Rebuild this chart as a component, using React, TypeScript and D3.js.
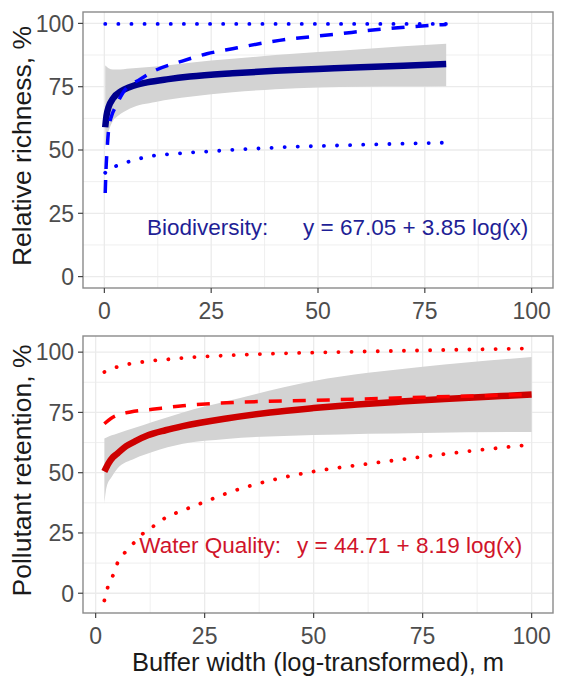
import * as d3 from "d3";

const xTicks = [0, 25, 50, 75, 100];
const yTicks = [0, 25, 50, 75, 100];
const minorTicks = [12.5, 37.5, 62.5, 87.5];

// Biodiversity panel
const bioFit: [number, number][] = [
  [0.2, 59], [0.5, 63.5], [1, 67], [2, 70.3], [4, 73.3], [6, 74.9], [10, 76.7],
  [15, 78], [20, 79], [30, 80.3], [40, 81.3], [50, 82], [60, 82.7], [70, 83.3], [80, 84],
];
const bioBandX = [0.2, 0.5, 1, 2, 3, 6, 12, 20, 30, 40, 50, 60, 70, 80];
const bioBandLow = [51, 54.5, 57.5, 61.5, 63.2, 66.4, 69, 71, 72.8, 74, 74.7, 75, 75.1, 75.2];
const bioBandHigh = [83.5, 83, 82.3, 81.8, 81.8, 82.2, 83, 84.5, 86, 87.5, 88.7, 89.8, 91, 92];
const bioDashed: [number, number][] = [
  [0.2, 33], [0.4, 43], [0.6, 49], [1, 58], [1.8, 64], [2.6, 67], [4.5, 73], [8.4, 78],
  [12, 81.5], [18, 85], [24, 88], [30, 90], [41, 93.3], [54, 95.7], [66, 97.9], [80, 99.6],
];
const bioDotHigh: [number, number][] = [[0.2, 99.8], [40, 99.8], [80, 99.8]];
const bioDotLow: [number, number][] = [
  [0.2, 41], [1, 42.5], [2.5, 43.5], [5, 45], [10, 47.3], [18, 48.7], [25, 49.5],
  [35, 50.5], [45, 51.3], [55, 51.8], [65, 52.3], [80, 52.9],
];

// Water quality panel
const wqFit: [number, number][] = [
  [2, 50.5], [3, 54], [4, 56.5], [5, 58], [7, 61], [9, 63], [12, 65.5], [16, 67.6],
  [20, 69.3], [30, 72.5], [40, 75], [50, 76.8], [60, 78.3], [70, 79.5], [80, 80.6], [90, 81.5], [100, 82.4],
];
const wqBandX = [2, 2.5, 3.7, 5, 9, 13, 20, 30, 50, 75, 100];
const wqBandLow = [37.2, 44, 48.3, 51.7, 55.9, 58.6, 62, 64, 65.6, 66.5, 66.9];
const wqBandHigh = [64.2, 64.6, 65.5, 66.3, 68.6, 71, 75, 79.6, 88, 93.9, 98];
const wqDashed: [number, number][] = [
  [2, 70.3], [3.5, 72.5], [5, 73.9], [8, 75.2], [13, 76.3], [20, 77.8], [30, 79],
  [50, 80], [75, 81.3], [100, 82.4],
];
const wqDotHigh: [number, number][] = [
  [2, 91.8], [5, 93.9], [11, 96], [17, 97.1], [23, 98], [30, 98.6], [45, 99.6],
  [60, 100.2], [80, 100.9], [98, 101.5],
];
const wqDotLow: [number, number][] = [
  [2, -3], [2.8, 2.6], [4, 7.5], [5, 12.5], [7, 17.5], [9, 21.3], [11, 25], [13.6, 28.2],
  [16, 31.3], [19, 33.7], [22, 35.8], [25, 37.9], [30, 41.4], [42, 47.6], [50, 50.5],
  [63, 53.8], [75, 56.6], [87, 59.2], [98.6, 61.4],
];

const font = "'Liberation Sans', Arial, sans-serif";
const left = 83;
const right = 553;

function Panel({ id, top, bottom, xDomain, yDomain, yTitle, fit, bandX, bandLow, bandHigh,
  dashed, dotHigh, dotLow, mainColor, lineColor, textColor, label, labelX, eq, eqX, showXTitle }: any) {
  const x = d3.scaleLinear().domain(xDomain).range([left, right]);
  const y = d3.scaleLinear().domain(yDomain).range([bottom, top]);

  const line = d3.line<[number, number]>()
    .x((d) => x(d[0]))
    .y((d) => y(d[1]))
    .curve(d3.curveMonotoneX);

  const band = d3.area<number>()
    .x((d) => x(d))
    .y0((d, i) => y(bandLow[i]))
    .y1((d, i) => y(bandHigh[i]))
    .curve(d3.curveMonotoneX);

  return (
    <g>
      <defs>
        <clipPath id={`clip-${id}`}>
          <rect x={left} y={top} width={right - left} height={bottom - top} />
        </clipPath>
      </defs>
      <rect x={left} y={top} width={right - left} height={bottom - top} fill="white" />
      {/* grid */}
      <g stroke="#ebebeb">
        {minorTicks.map((t) => (
          <g key={"m" + t}>
            <line x1={x(t)} x2={x(t)} y1={top} y2={bottom} strokeWidth={0.8} />
            <line x1={left} x2={right} y1={y(t)} y2={y(t)} strokeWidth={0.8} />
          </g>
        ))}
        {xTicks.map((t) => (
          <line key={"gx" + t} x1={x(t)} x2={x(t)} y1={top} y2={bottom} strokeWidth={1.3} />
        ))}
        {yTicks.map((t) => (
          <line key={"gy" + t} x1={left} x2={right} y1={y(t)} y2={y(t)} strokeWidth={1.3} />
        ))}
      </g>
      <g clipPath={`url(#clip-${id})`}>
        <path d={band(bandX) ?? ""} fill="#d3d3d3" />
        <path d={line(fit) ?? ""} fill="none" stroke={mainColor} strokeWidth={6.5} />
        <path d={line(dashed) ?? ""} fill="none" stroke={lineColor} strokeWidth={3.5}
          strokeDasharray="13 11" />
        <path d={line(dotHigh) ?? ""} fill="none" stroke={lineColor} strokeWidth={3.8}
          strokeDasharray="0.1 13" strokeLinecap="round" />
        <path d={line(dotLow) ?? ""} fill="none" stroke={lineColor} strokeWidth={3.8}
          strokeDasharray="0.1 13" strokeLinecap="round" />
      </g>
      <text x={x(labelX)} y={y(16.5)} fill={textColor} fontSize={22.5} fontFamily={font}>{label}</text>
      <text x={x(eqX)} y={y(16.5)} fill={textColor} fontSize={22.5} fontFamily={font}>{eq}</text>
      <rect x={left} y={top} width={right - left} height={bottom - top} fill="none"
        stroke="#8a8a8a" strokeWidth={1.4} />
      {/* y axis */}
      {yTicks.map((t) => (
        <g key={"yt" + t}>
          <line x1={left - 5} x2={left} y1={y(t)} y2={y(t)} stroke="#444" strokeWidth={1.2} />
          <text x={74} y={y(t)} dy="0.36em" textAnchor="end" fontSize={23} fill="#4d4d4d"
            fontFamily={font}>{t}</text>
        </g>
      ))}
      {/* x axis */}
      {xTicks.map((t) => (
        <g key={"xt" + t}>
          <line x1={x(t)} x2={x(t)} y1={bottom} y2={bottom + 5} stroke="#444" strokeWidth={1.2} />
          <text x={x(t)} y={bottom + 31} textAnchor="middle" fontSize={23} fill="#4d4d4d"
            fontFamily={font}>{t}</text>
        </g>
      ))}
      <text transform={`translate(31, ${(top + bottom) / 2 - 4}) rotate(-90)`} textAnchor="middle"
        fontSize={26.5} fill="#1a1a1a" fontFamily={font}>{yTitle}</text>
      {showXTitle && (
        <text x={(left + right) / 2} y={671} textAnchor="middle" fontSize={25.5} fill="#1a1a1a"
          fontFamily={font}>Buffer width (log-transformed), m</text>
      )}
    </g>
  );
}

export default function App() {
  return (
    <svg width={576} height={678} style={{ position: "absolute", left: 0, top: 0, background: "white" }}>
      <Panel id="bio" top={12} bottom={288} xDomain={[-5, 105]} yDomain={[-4.5, 104.5]}
        yTitle="Relative richness, %" fit={bioFit} bandX={bioBandX} bandLow={bioBandLow}
        bandHigh={bioBandHigh} dashed={bioDashed} dotHigh={bioDotHigh} dotLow={bioDotLow}
        mainColor="#00008b" lineColor="#0000ff" textColor="#1f1f96" label="Biodiversity:" labelX={10}
        eq="y = 67.05 + 3.85 log(x)" eqX={46.5} showXTitle={false} />
      <Panel id="wq" top={336} bottom={613} xDomain={[-2.9, 104.9]} yDomain={[-8.2, 106.7]}
        yTitle="Pollutant retention, %" fit={wqFit} bandX={wqBandX} bandLow={wqBandLow}
        bandHigh={wqBandHigh} dashed={wqDashed} dotHigh={wqDotHigh} dotLow={wqDotLow}
        mainColor="#cd0000" lineColor="#ff0000" textColor="#d0142a" label="Water Quality:" labelX={10}
        eq="y = 44.71 + 8.19 log(x)" eqX={46.2} showXTitle={true} />
    </svg>
  );
}
